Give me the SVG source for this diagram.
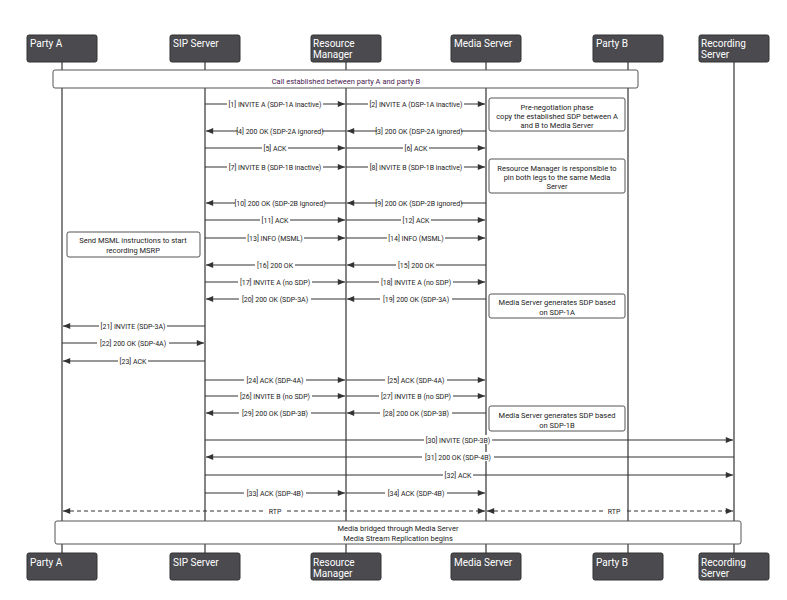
<svg xmlns="http://www.w3.org/2000/svg" width="787" height="600" viewBox="0 0 787 600">
<style>
.actor rect{fill:#4a4a4f;stroke:#333;stroke-width:1}
.actor text{fill:#fff;font:10px "Roboto","Liberation Sans",sans-serif}
.life{stroke:#333;stroke-width:1.2}
.msg line{stroke:#333;stroke-width:1.2}
.dash{stroke-dasharray:4 3}
.lbl{font:7px "Roboto","Liberation Sans",sans-serif;fill:#222;text-anchor:middle}
.bg{fill:#fff}
.note rect{fill:#fff;stroke:#555;stroke-width:1}
.note text{font:7.5px "Roboto","Liberation Sans",sans-serif;fill:#222;text-anchor:middle}
</style>
<defs>
<marker id="ah" viewBox="0 0 10 10" refX="10" refY="5" markerWidth="8" markerHeight="6" orient="auto-start-reverse"><path d="M0,1 L10,5 L0,9 z" fill="#333"/></marker>
</defs>
<rect width="787" height="600" fill="#fff"/>
<g id="lifelines">
<line class="life" x1="62" y1="62" x2="62" y2="553"/>
<line class="life" x1="205" y1="62" x2="205" y2="553"/>
<line class="life" x1="346" y1="62" x2="346" y2="553"/>
<line class="life" x1="486" y1="62" x2="486" y2="553"/>
<line class="life" x1="628" y1="62" x2="628" y2="553"/>
<line class="life" x1="734" y1="62" x2="734" y2="553"/>
</g>
<g id="partyA-top" class="actor"><rect x="27" y="35" width="70" height="27" rx="2"/><text x="30" y="47">Party A</text></g>
<g id="sip-top" class="actor"><rect x="170" y="35" width="70" height="27" rx="2"/><text x="173" y="47">SIP Server</text></g>
<g id="rm-top" class="actor"><rect x="311" y="35" width="70" height="27" rx="2"/><text x="313" y="47">Resource</text><text x="313" y="58">Manager</text></g>
<g id="ms-top" class="actor"><rect x="451" y="35" width="70" height="27" rx="2"/><text x="454" y="47">Media Server</text></g>
<g id="pb-top" class="actor"><rect x="593" y="35" width="70" height="27" rx="2"/><text x="596" y="47">Party B</text></g>
<g id="rec-top" class="actor"><rect x="699" y="35" width="70" height="27" rx="2"/><text x="701" y="47">Recording</text><text x="701" y="58">Server</text></g>
<g id="partyA-bot" class="actor"><rect x="27" y="553" width="70" height="27" rx="2"/><text x="30" y="566">Party A</text></g>
<g id="sip-bot" class="actor"><rect x="170" y="553" width="70" height="27" rx="2"/><text x="173" y="566">SIP Server</text></g>
<g id="rm-bot" class="actor"><rect x="311" y="553" width="70" height="27" rx="2"/><text x="313" y="566">Resource</text><text x="313" y="577">Manager</text></g>
<g id="ms-bot" class="actor"><rect x="451" y="553" width="70" height="27" rx="2"/><text x="454" y="566">Media Server</text></g>
<g id="pb-bot" class="actor"><rect x="593" y="553" width="70" height="27" rx="2"/><text x="596" y="566">Party B</text></g>
<g id="rec-bot" class="actor"><rect x="699" y="553" width="70" height="27" rx="2"/><text x="701" y="566">Recording</text><text x="701" y="577">Server</text></g>
<g id="note-top" class="note"><rect x="53" y="70" width="585" height="18" rx="2"/><text x="346" y="84" style="fill:#4a2050">Call established between party A and party B</text></g>
<g id="note-bottom" class="note"><rect x="55" y="521" width="686" height="23" rx="2"/><text x="398" y="531">Media bridged through Media Server</text><text x="398" y="541">Media Stream Replication begins</text></g>
<g id="note-pre" class="note"><rect x="489" y="98" width="136" height="33" rx="2"/><text x="557" y="110">Pre-negotiation phase</text><text x="557" y="119">copy the established SDP between A</text><text x="557" y="128">and B to Media Server</text></g>
<g id="note-rm" class="note"><rect x="489" y="159" width="136" height="34" rx="2"/><text x="557" y="171">Resource Manager is responsible to</text><text x="557" y="180">pin both legs to the same Media</text><text x="557" y="189">Server</text></g>
<g id="note-msml" class="note"><rect x="67" y="232" width="133" height="25" rx="2"/><text x="133" y="243">Send MSML instructions to start</text><text x="133" y="253">recording MSRP</text></g>
<g id="note-sdp1a" class="note"><rect x="489" y="294" width="136" height="24" rx="2"/><text x="557" y="305">Media Server generates SDP based</text><text x="557" y="315">on SDP-1A</text></g>
<g id="note-sdp1b" class="note"><rect x="489" y="406" width="136" height="25" rx="2"/><text x="557" y="418">Media Server generates SDP based</text><text x="557" y="428">on SDP-1B</text></g>
<g id="connectors" class="msg">
<line x1="205" y1="104" x2="345" y2="104" marker-end="url(#ah)"/>
<line x1="346" y1="104" x2="485" y2="104" marker-end="url(#ah)"/>
<line x1="346" y1="131" x2="206" y2="131" marker-end="url(#ah)"/>
<line x1="486" y1="131" x2="347" y2="131" marker-end="url(#ah)"/>
<line x1="205" y1="148" x2="345" y2="148" marker-end="url(#ah)"/>
<line x1="346" y1="148" x2="485" y2="148" marker-end="url(#ah)"/>
<line x1="205" y1="167" x2="345" y2="167" marker-end="url(#ah)"/>
<line x1="346" y1="167" x2="485" y2="167" marker-end="url(#ah)"/>
<line x1="346" y1="203" x2="206" y2="203" marker-end="url(#ah)"/>
<line x1="486" y1="203" x2="347" y2="203" marker-end="url(#ah)"/>
<line x1="205" y1="220" x2="345" y2="220" marker-end="url(#ah)"/>
<line x1="346" y1="220" x2="485" y2="220" marker-end="url(#ah)"/>
<line x1="205" y1="238" x2="345" y2="238" marker-end="url(#ah)"/>
<line x1="346" y1="238" x2="485" y2="238" marker-end="url(#ah)"/>
<line x1="346" y1="265" x2="206" y2="265" marker-end="url(#ah)"/>
<line x1="486" y1="265" x2="347" y2="265" marker-end="url(#ah)"/>
<line x1="205" y1="282" x2="345" y2="282" marker-end="url(#ah)"/>
<line x1="346" y1="282" x2="485" y2="282" marker-end="url(#ah)"/>
<line x1="346" y1="299" x2="206" y2="299" marker-end="url(#ah)"/>
<line x1="486" y1="299" x2="347" y2="299" marker-end="url(#ah)"/>
<line x1="205" y1="326" x2="63" y2="326" marker-end="url(#ah)"/>
<line x1="62" y1="343" x2="204" y2="343" marker-end="url(#ah)"/>
<line x1="205" y1="361" x2="63" y2="361" marker-end="url(#ah)"/>
<line x1="205" y1="380" x2="345" y2="380" marker-end="url(#ah)"/>
<line x1="346" y1="380" x2="485" y2="380" marker-end="url(#ah)"/>
<line x1="205" y1="396" x2="345" y2="396" marker-end="url(#ah)"/>
<line x1="346" y1="396" x2="485" y2="396" marker-end="url(#ah)"/>
<line x1="346" y1="413" x2="206" y2="413" marker-end="url(#ah)"/>
<line x1="486" y1="413" x2="347" y2="413" marker-end="url(#ah)"/>
<line x1="205" y1="440" x2="733" y2="440" marker-end="url(#ah)"/>
<line x1="734" y1="457" x2="206" y2="457" marker-end="url(#ah)"/>
<line x1="205" y1="475" x2="733" y2="475" marker-end="url(#ah)"/>
<line x1="205" y1="493" x2="345" y2="493" marker-end="url(#ah)"/>
<line x1="346" y1="493" x2="485" y2="493" marker-end="url(#ah)"/>
<line class="dash" x1="63" y1="511" x2="485" y2="511" marker-start="url(#ah)" marker-end="url(#ah)"/>
<line class="dash" x1="487" y1="511" x2="733" y2="511" marker-start="url(#ah)" marker-end="url(#ah)"/>
</g>
<g id="labels">
<g transform="translate(275,104)"><rect class="bg" x="-48" y="-5" width="96" height="9"/><text class="lbl" y="3">[1] INVITE A (SDP-1A inactive)</text></g>
<g transform="translate(416,104)"><rect class="bg" x="-48" y="-5" width="96" height="9"/><text class="lbl" y="3">[2] INVITE A (DSP-1A inactive)</text></g>
<g transform="translate(280,131)"><rect class="bg" x="-42" y="-5" width="84" height="9"/><text class="lbl" y="3">[4] 200 OK (SDP-2A ignored)</text></g>
<g transform="translate(419,131)"><rect class="bg" x="-42" y="-5" width="84" height="9"/><text class="lbl" y="3">[3] 200 OK (DSP-2A ignored)</text></g>
<g transform="translate(275,148)"><rect class="bg" x="-13" y="-5" width="26" height="9"/><text class="lbl" y="3">[5] ACK</text></g>
<g transform="translate(416,148)"><rect class="bg" x="-13" y="-5" width="26" height="9"/><text class="lbl" y="3">[6] ACK</text></g>
<g transform="translate(275,167)"><rect class="bg" x="-48" y="-5" width="96" height="9"/><text class="lbl" y="3">[7] INVITE B (SDP-1B inactive)</text></g>
<g transform="translate(416,167)"><rect class="bg" x="-48" y="-5" width="96" height="9"/><text class="lbl" y="3">[8] INVITE B (SDP-1B inactive)</text></g>
<g transform="translate(280,203)"><rect class="bg" x="-45" y="-5" width="90" height="9"/><text class="lbl" y="3">[10] 200 OK (SDP-2B ignored)</text></g>
<g transform="translate(419,203)"><rect class="bg" x="-42" y="-5" width="84" height="9"/><text class="lbl" y="3">[9] 200 OK (SDP-2B ignored)</text></g>
<g transform="translate(275,220)"><rect class="bg" x="-15" y="-5" width="30" height="9"/><text class="lbl" y="3">[11] ACK</text></g>
<g transform="translate(416,220)"><rect class="bg" x="-15" y="-5" width="30" height="9"/><text class="lbl" y="3">[12] ACK</text></g>
<g transform="translate(275,238)"><rect class="bg" x="-29" y="-5" width="58" height="9"/><text class="lbl" y="3">[13] INFO (MSML)</text></g>
<g transform="translate(416,238)"><rect class="bg" x="-29" y="-5" width="58" height="9"/><text class="lbl" y="3">[14] INFO (MSML)</text></g>
<g transform="translate(275,265)"><rect class="bg" x="-20" y="-5" width="40" height="9"/><text class="lbl" y="3">[16] 200 OK</text></g>
<g transform="translate(416,265)"><rect class="bg" x="-20" y="-5" width="40" height="9"/><text class="lbl" y="3">[15] 200 OK</text></g>
<g transform="translate(275,282)"><rect class="bg" x="-37" y="-5" width="74" height="9"/><text class="lbl" y="3">[17] INVITE A (no SDP)</text></g>
<g transform="translate(416,282)"><rect class="bg" x="-37" y="-5" width="74" height="9"/><text class="lbl" y="3">[18] INVITE A (no SDP)</text></g>
<g transform="translate(275,299)"><rect class="bg" x="-36" y="-5" width="72" height="9"/><text class="lbl" y="3">[20] 200 OK (SDP-3A)</text></g>
<g transform="translate(416,299)"><rect class="bg" x="-36" y="-5" width="72" height="9"/><text class="lbl" y="3">[19] 200 OK (SDP-3A)</text></g>
<g transform="translate(133,326)"><rect class="bg" x="-34" y="-5" width="68" height="9"/><text class="lbl" y="3">[21] INVITE (SDP-3A)</text></g>
<g transform="translate(133,343)"><rect class="bg" x="-36" y="-5" width="72" height="9"/><text class="lbl" y="3">[22] 200 OK (SDP-4A)</text></g>
<g transform="translate(133,361)"><rect class="bg" x="-15" y="-5" width="30" height="9"/><text class="lbl" y="3">[23] ACK</text></g>
<g transform="translate(275,380)"><rect class="bg" x="-31" y="-5" width="62" height="9"/><text class="lbl" y="3">[24] ACK (SDP-4A)</text></g>
<g transform="translate(416,380)"><rect class="bg" x="-31" y="-5" width="62" height="9"/><text class="lbl" y="3">[25] ACK (SDP-4A)</text></g>
<g transform="translate(275,396)"><rect class="bg" x="-37" y="-5" width="74" height="9"/><text class="lbl" y="3">[26] INVITE B (no SDP)</text></g>
<g transform="translate(416,396)"><rect class="bg" x="-37" y="-5" width="74" height="9"/><text class="lbl" y="3">[27] INVITE B (no SDP)</text></g>
<g transform="translate(275,413)"><rect class="bg" x="-36" y="-5" width="72" height="9"/><text class="lbl" y="3">[29] 200 OK (SDP-3B)</text></g>
<g transform="translate(416,413)"><rect class="bg" x="-36" y="-5" width="72" height="9"/><text class="lbl" y="3">[28] 200 OK (SDP-3B)</text></g>
<g transform="translate(458,440)"><rect class="bg" x="-34" y="-5" width="68" height="9"/><text class="lbl" y="3">[30] INVITE (SDP-3B)</text></g>
<g transform="translate(458,457)"><rect class="bg" x="-36" y="-5" width="72" height="9"/><text class="lbl" y="3">[31] 200 OK (SDP-4B)</text></g>
<g transform="translate(458,475)"><rect class="bg" x="-15" y="-5" width="30" height="9"/><text class="lbl" y="3">[32] ACK</text></g>
<g transform="translate(275,493)"><rect class="bg" x="-31" y="-5" width="62" height="9"/><text class="lbl" y="3">[33] ACK (SDP-4B)</text></g>
<g transform="translate(416,493)"><rect class="bg" x="-31" y="-5" width="62" height="9"/><text class="lbl" y="3">[34] ACK (SDP-4B)</text></g>
<g transform="translate(275,511)"><rect class="bg" x="-10" y="-5" width="20" height="9"/><text class="lbl" y="3">RTP</text></g>
<g transform="translate(614,511)"><rect class="bg" x="-10" y="-5" width="20" height="9"/><text class="lbl" y="3">RTP</text></g>
</g>
</svg>
